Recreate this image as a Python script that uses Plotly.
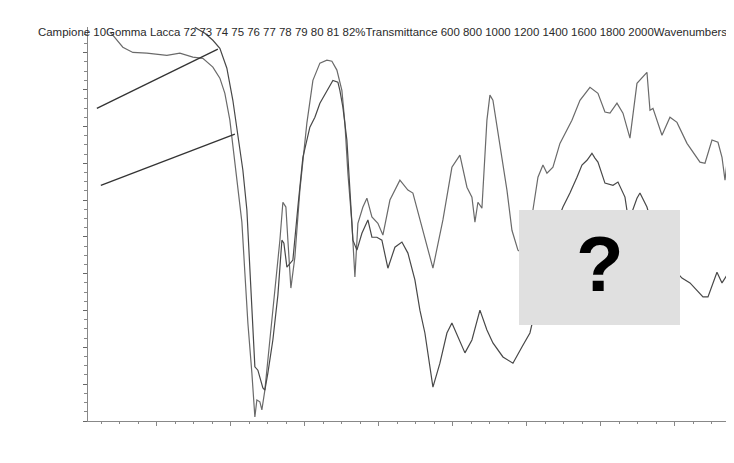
import plotly.graph_objects as go

# ---- data (wavenumber cm-1, % transmittance) ----
wn_a = [2127.0, 2118.9, 2091.9, 2064.8, 2027.0, 1972.9, 1937.8, 1902.7, 1875.7, 1848.6,
        1829.7, 1816.2, 1802.7, 1791.9, 1781.1, 1770.2, 1762.1, 1754.0, 1743.2, 1735.1,
        1729.7, 1721.6, 1716.2, 1708.1, 1694.6, 1681.1, 1667.5, 1659.4, 1651.3, 1645.9,
        1637.8, 1627.0, 1613.5, 1594.6, 1578.3, 1559.4, 1540.5, 1527.0, 1513.5, 1500.0,
        1491.9, 1483.8, 1472.9, 1464.8, 1456.7, 1443.2, 1432.4, 1418.9, 1402.7, 1389.2,
        1370.2, 1343.2, 1321.6, 1308.1, 1289.2, 1254.0, 1227.0, 1202.7, 1181.1, 1162.1,
        1148.6, 1140.5, 1132.4, 1121.6, 1108.1, 1100.0, 1091.9, 1072.9, 1054.0, 1040.5,
        1024.3, 1005.4, 991.9, 983.8, 970.2, 956.7, 945.9, 929.7, 910.8, 878.4,
        856.7, 829.7, 808.1, 789.2, 775.6, 756.7, 740.5, 721.6, 702.7, 675.7,
        667.5, 659.4, 635.1, 613.5, 594.6, 567.5, 532.4, 518.9, 500.0, 483.8,
        472.9, 464.8, 456.7]
t_a = [82.56, 82.48, 82.15, 82.01, 81.99, 81.93, 81.99, 81.88, 81.85, 81.61,
       81.31, 80.90, 80.17, 79.27, 78.35, 77.40, 76.02, 74.66, 73.30, 72.11,
       72.57, 72.52, 72.30, 72.84, 74.20, 75.56, 76.91, 77.94, 77.81, 76.91,
       75.61, 76.45, 78.27, 80.09, 81.25, 81.72, 81.80, 81.77, 81.53, 80.98,
       80.09, 78.73, 77.37, 75.91, 77.37, 77.81, 78.05, 77.54, 77.37, 77.05,
       78.00, 78.54, 78.27, 78.19, 77.46, 76.15, 77.46, 78.89, 79.22, 78.35,
       78.08, 77.40, 77.94, 77.78, 80.17, 80.85, 80.71, 79.44, 78.27, 77.18,
       76.64, 76.51, 77.05, 77.73, 78.62, 78.95, 78.73, 78.89, 79.54, 80.17,
       80.71, 81.06, 80.90, 80.39, 80.36, 80.63, 80.36, 79.68, 81.17, 81.47,
       80.44, 80.49, 79.76, 80.25, 80.11, 79.54, 79.03, 79.00, 79.63, 79.57,
       79.16, 78.54, 79.27]

wn_b = [1897.3, 1870.2, 1848.6, 1829.7, 1810.8, 1794.6, 1781.1, 1767.5, 1756.7, 1748.6,
        1740.5, 1735.1, 1727.0, 1713.5, 1708.1, 1700.0, 1686.5, 1672.9, 1662.1, 1656.7,
        1648.6, 1640.5, 1632.4, 1618.9, 1605.4, 1586.5, 1572.9, 1559.4, 1540.5, 1524.3,
        1510.8, 1505.4, 1497.3, 1486.5, 1478.3, 1470.2, 1459.4, 1445.9, 1429.7, 1418.9,
        1405.4, 1391.9, 1375.7, 1356.7, 1337.8, 1321.6, 1302.7, 1289.2, 1275.7, 1254.0,
        1235.1, 1216.2, 1202.7, 1186.5, 1167.5, 1148.6, 1127.0, 1108.1, 1091.9, 1064.8,
        1037.8, 1013.5, 991.9, 964.8, 932.4, 902.7, 883.8, 864.8, 851.3, 837.8,
        824.3, 816.2, 808.1, 789.2, 767.5, 754.0, 735.1, 727.0, 716.2, 702.7,
        694.6, 675.7, 654.0, 618.9, 581.1, 559.4, 540.5, 524.3, 510.8, 486.5,
        472.9, 459.4]
t_b = [82.69, 82.53, 82.34, 82.12, 81.58, 80.71, 79.76, 78.81, 77.73, 76.02,
       74.47, 73.47, 73.38, 72.90, 72.84, 73.30, 74.20, 75.42, 76.91, 76.83,
       76.18, 76.29, 76.37, 77.81, 79.16, 79.98, 80.25, 80.63, 80.98, 81.25,
       81.20, 80.98, 80.52, 79.63, 78.27, 76.91, 76.64, 77.10, 77.46, 76.99,
       76.99, 76.91, 76.15, 76.72, 76.86, 76.56, 75.83, 75.01, 74.39, 72.92,
       73.57, 74.39, 74.66, 74.28, 73.85, 74.20, 75.01, 74.47, 74.12, 73.74,
       73.57, 74.01, 74.39, 75.56, 77.05, 77.81, 78.19, 78.62, 78.95, 79.08,
       79.27, 79.14, 79.03, 78.46, 78.40, 78.49, 78.08, 77.54, 77.67, 78.05,
       78.19, 77.81, 77.05, 76.31, 75.88, 75.75, 75.56, 75.37, 75.37, 76.04,
       75.75, 75.96]

# leader lines (start / end)
lead1_wn = [2162.1, 1835.1]
lead1_t = [80.49, 82.10]
lead2_wn = [2151.3, 1789.2]
lead2_t = [78.40, 79.79]

header = ("Campione 10Gomma Lacca 72 73 74 75 76 77 78 79 80 81 82%Transmittance "
          "600 800 1000 1200 1400 1600 1800 2000Wavenumbers")

fig = go.Figure()
fig.add_trace(go.Scatter(x=wn_a, y=t_a, mode="lines",
                         line=dict(color="#6a6a6a", width=1.2), hoverinfo="skip"))
fig.add_trace(go.Scatter(x=wn_b, y=t_b, mode="lines",
                         line=dict(color="#484848", width=1.2), hoverinfo="skip"))
fig.add_trace(go.Scatter(x=lead1_wn, y=lead1_t, mode="lines",
                         line=dict(color="#333333", width=1.3), hoverinfo="skip"))
fig.add_trace(go.Scatter(x=lead2_wn, y=lead2_t, mode="lines",
                         line=dict(color="#333333", width=1.3), hoverinfo="skip"))

# plot area in page pixels: x 88..729, y 27..421 (page has 8px body offset)
fig.add_shape(type="rect", xref="paper", yref="paper",
              x0=(519 - 88) / 641, x1=(680 - 88) / 641,
              y0=(421 - 325) / 394, y1=(421 - 210) / 394,
              fillcolor="#e0e0e0", line=dict(width=0), layer="above")
fig.add_annotation(text="?", xref="paper", yref="paper",
                   x=(600 - 88) / 641, y=(421 - 264) / 394,
                   showarrow=False, xanchor="center", yanchor="middle",
                   font=dict(family="Liberation Sans", size=78, color="#000000", weight="bold"))
fig.add_annotation(text=header, xref="paper", yref="paper",
                   x=(36 - 88) / 641, y=(421 - 32) / 394,
                   showarrow=False, xanchor="left", yanchor="middle",
                   font=dict(family="Liberation Sans", size=11.45, color="#2a2a2a"))

fig.update_layout(
    width=726, height=455,
    margin=dict(l=80, r=5, t=19, b=42),
    paper_bgcolor="white", plot_bgcolor="white",
    showlegend=False,
    xaxis=dict(range=[2186, 454], showgrid=False, zeroline=False,
               showline=True, linecolor="#888888", linewidth=1,
               ticks="outside", ticklen=4, tickcolor="#888888",
               tick0=0, dtick=200, showticklabels=False,
               minor=dict(ticks="outside", ticklen=2, dtick=50, tickcolor="#888888")),
    yaxis=dict(range=[72, 82.7], showgrid=False, zeroline=False,
               showline=True, linecolor="#888888", linewidth=1,
               ticks="outside", ticklen=4, tickcolor="#666666",
               tick0=72, dtick=1, showticklabels=False,
               minor=dict(ticks="outside", ticklen=3, dtick=0.25, tickcolor="#888888")),
)

fig.write_html("out.html")
